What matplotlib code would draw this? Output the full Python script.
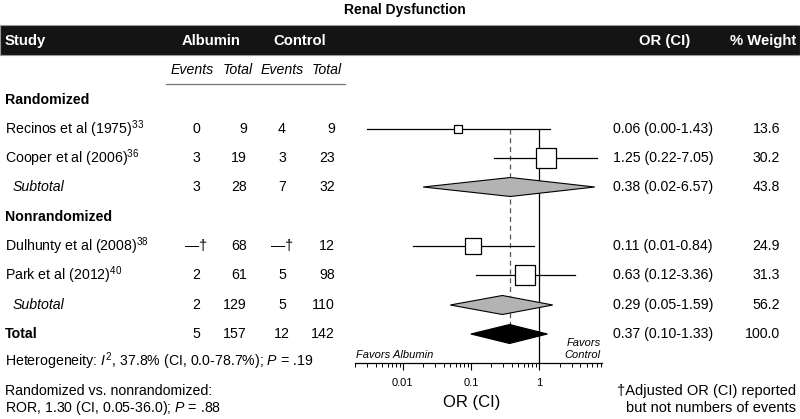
import matplotlib
matplotlib.use("Agg")
import matplotlib.pyplot as plt
from matplotlib.patches import Rectangle, Polygon
from matplotlib.ticker import LogLocator, NullFormatter, FixedLocator, FixedFormatter

plt.rcParams['font.family'] = ['Liberation Sans', 'DejaVu Sans']
plt.rcParams['mathtext.fontset'] = 'custom'
plt.rcParams['mathtext.rm'] = 'Liberation Sans'
plt.rcParams['mathtext.it'] = 'Liberation Sans:italic'
plt.rcParams['mathtext.bf'] = 'Liberation Sans:bold'

# data
study = ["Recinos et al (1975)", "Cooper et al (2006)", "Dulhunty et al (2008)", "Park et al (2012)"]
refs = ["33", "36", "38", "40"]
alb_ev = ["0", "3", "—†", "2"]
alb_tot = [9, 19, 68, 61]
ctl_ev = ["4", "3", "—†", "5"]
ctl_tot = [9, 23, 12, 98]
odds = [0.065, 1.25, 0.107, 0.63]
or_txt = ["0.06", "1.25", "0.11", "0.63"]
lo = [0.003, 0.22, 0.014, 0.12]
hi = [1.43, 7.05, 0.84, 3.36]
weight = [13.6, 30.2, 24.9, 31.3]

sub_alb_ev = [3, 2]
sub_alb_tot = [28, 129]
sub_ctl_ev = [7, 5]
sub_ctl_tot = [32, 110]
sub_or = [0.38, 0.29]
sub_lo = [0.02, 0.05]
sub_hi = [6.57, 1.59]
sub_w = [43.8, 56.2]

tot_counts = [5, 157, 12, 142]
tot_or, tot_lo, tot_hi, tot_w = 0.37, 0.10, 1.33, 100.0

xticks = [0.01, 0.1, 1]
xticklabels = ["0.01", "0.1", "1"]

# layout (pixels)
W, H = 800, 419
row_y = {"rand": 100, "s0": 129, "s1": 158, "sub0": 187, "nonrand": 217,
         "s2": 246, "s3": 275, "sub1": 305, "total": 334}
study_rows = ["s0", "s1", "s2", "s3"]
sub_rows = ["sub0", "sub1"]
x_aev, x_atot, x_cev, x_ctot = 196, 247, 282, 335
x_or, x_w = 613, 780
fs = 10.2

fig = plt.figure(figsize=(W / 100, H / 100), dpi=100)
ax0 = fig.add_axes([0, 0, 1, 1])
ax0.set_xlim(0, W)
ax0.set_ylim(H, 0)
ax0.axis("off")

# title + header bar
ax0.text(405, 10, "Renal Dysfunction", ha="center", va="center", fontsize=10, fontweight="bold")
ax0.add_patch(Rectangle((0, 25), W, 30, facecolor="#141414", edgecolor="#999999", lw=0.8))
hy = 41
for x, s, ha in [(5, "Study", "left"), (211, "Albumin", "center"), (300, "Control", "center"),
                 (665, "OR (CI)", "center"), (796, "% Weight", "right")]:
    ax0.text(x, hy, s, ha=ha, va="center", color="white", fontsize=fs + 0.5, fontweight="bold")

for x, s in [(192, "Events"), (238, "Total"), (282, "Events"), (327, "Total")]:
    ax0.text(x, 70, s, ha="center", va="center", fontsize=fs, style="italic")
ax0.plot([166, 345], [84, 84], color="#777777", lw=0.9)

ax0.text(5, row_y["rand"], "Randomized", ha="left", va="center", fontsize=fs, fontweight="bold")
ax0.text(5, row_y["nonrand"], "Nonrandomized", ha="left", va="center", fontsize=fs, fontweight="bold")

for i, r in enumerate(study_rows):
    y = row_y[r]
    ax0.text(5, y, study[i] + "$^{" + refs[i] + "}$", ha="left", va="center", fontsize=fs)
    ax0.text(x_aev, y, alb_ev[i], ha="center", va="center", fontsize=fs)
    ax0.text(x_atot, y, str(alb_tot[i]), ha="right", va="center", fontsize=fs)
    ax0.text(x_cev, y, ctl_ev[i], ha="center", va="center", fontsize=fs)
    ax0.text(x_ctot, y, str(ctl_tot[i]), ha="right", va="center", fontsize=fs)
    ax0.text(x_or, y, f"{or_txt[i]} ({lo[i]:.2f}-{hi[i]:.2f})", ha="left", va="center", fontsize=fs)
    ax0.text(x_w, y, f"{weight[i]:.1f}", ha="right", va="center", fontsize=fs)

for j, r in enumerate(sub_rows):
    y = row_y[r]
    ax0.text(13, y, "Subtotal", ha="left", va="center", fontsize=fs, style="italic")
    ax0.text(x_aev, y, str(sub_alb_ev[j]), ha="center", va="center", fontsize=fs)
    ax0.text(x_atot, y, str(sub_alb_tot[j]), ha="right", va="center", fontsize=fs)
    ax0.text(x_cev, y, str(sub_ctl_ev[j]), ha="center", va="center", fontsize=fs)
    ax0.text(x_ctot, y, str(sub_ctl_tot[j]), ha="right", va="center", fontsize=fs)
    ax0.text(x_or, y, f"{sub_or[j]:.2f} ({sub_lo[j]:.2f}-{sub_hi[j]:.2f})", ha="left", va="center", fontsize=fs)
    ax0.text(x_w, y, f"{sub_w[j]:.1f}", ha="right", va="center", fontsize=fs)

y = row_y["total"]
ax0.text(5, y, "Total", ha="left", va="center", fontsize=fs, fontweight="bold")
ax0.text(x_aev, y, str(tot_counts[0]), ha="center", va="center", fontsize=fs)
ax0.text(x_atot, y, str(tot_counts[1]), ha="right", va="center", fontsize=fs)
ax0.text(x_cev, y, str(tot_counts[2]), ha="center", va="center", fontsize=fs)
ax0.text(x_ctot, y, str(tot_counts[3]), ha="right", va="center", fontsize=fs)
ax0.text(x_or, y, f"{tot_or:.2f} ({tot_lo:.2f}-{tot_hi:.2f})", ha="left", va="center", fontsize=fs)
ax0.text(x_w, y, f"{tot_w:.1f}", ha="right", va="center", fontsize=fs)

ax0.text(5, 361, "Heterogeneity: $I^2$, 37.8% (CI, 0.0-78.7%); $P$ = .19", ha="left", va="center", fontsize=fs)
ax0.text(5, 391, "Randomized vs. nonrandomized:", ha="left", va="center", fontsize=fs)
ax0.text(5, 408, "ROR, 1.30 (CI, 0.05-36.0); $P$ = .88", ha="left", va="center", fontsize=fs)
ax0.text(796, 391, "†Adjusted OR (CI) reported", ha="right", va="center", fontsize=fs + 0.3)
ax0.text(796, 408, "but not numbers of events", ha="right", va="center", fontsize=fs + 0.3)

# forest panel: y in pixel units
x0, x1, yb, yt = 355, 602, 363, 25
ax1 = fig.add_axes([x0 / W, 1 - yb / H, (x1 - x0) / W, (yb - yt) / H])
ax1.set_xscale("log")
ax1.set_xlim(0.002, 8.4)
ax1.set_ylim(yb, yt)
ax1.patch.set_visible(False)
for s in ["top", "left", "right"]:
    ax1.spines[s].set_visible(False)
ax1.spines["bottom"].set_linewidth(0.9)
ax1.yaxis.set_visible(False)
ax1.xaxis.set_major_locator(FixedLocator(xticks))
ax1.xaxis.set_major_formatter(FixedFormatter(xticklabels))
ax1.xaxis.set_minor_locator(LogLocator(base=10, subs=range(2, 10)))
ax1.xaxis.set_minor_formatter(NullFormatter())
ax1.tick_params(axis="x", which="major", length=5, width=0.8, labelsize=8, pad=6)
ax1.tick_params(axis="x", which="minor", length=3, width=0.7)

top = row_y["s0"]
ax1.plot([1, 1], [top, yb], color="black", lw=0.9, zorder=1)
ax1.plot([tot_or, tot_or], [top, row_y["total"]], color="#555555", lw=0.9, ls=(0, (4, 3)), zorder=1)

for i, r in enumerate(study_rows):
    y = row_y[r]
    ax1.plot([lo[i], hi[i]], [y, y], color="black", lw=0.9, zorder=2)
    side = 0.63 * weight[i] * 0.72
    ax1.scatter([odds[i]], [y], marker="s", s=side ** 2, facecolor="white",
                edgecolor="black", linewidth=0.9, zorder=3)

dh = 9.5
for j, r in enumerate(sub_rows):
    y = row_y[r]
    ax1.add_patch(Polygon([(sub_lo[j], y), (sub_or[j], y - dh), (sub_hi[j], y), (sub_or[j], y + dh)],
                          closed=True, facecolor="#b3b3b3", edgecolor="black", lw=0.8, zorder=3))
y = row_y["total"]
ax1.add_patch(Polygon([(tot_lo, y), (tot_or, y - dh), (tot_hi, y), (tot_or, y + dh)],
                      closed=True, facecolor="black", edgecolor="black", lw=0.8, zorder=3))

ax0.text(356, 355, "Favors Albumin", ha="left", va="center", fontsize=8, style="italic")
ax0.text(601, 343, "Favors", ha="right", va="center", fontsize=8, style="italic")
ax0.text(601, 355, "Control", ha="right", va="center", fontsize=8, style="italic")
ax0.text(472, 402, "OR (CI)", ha="center", va="center", fontsize=12)

fig.savefig("out.png", dpi=100)
